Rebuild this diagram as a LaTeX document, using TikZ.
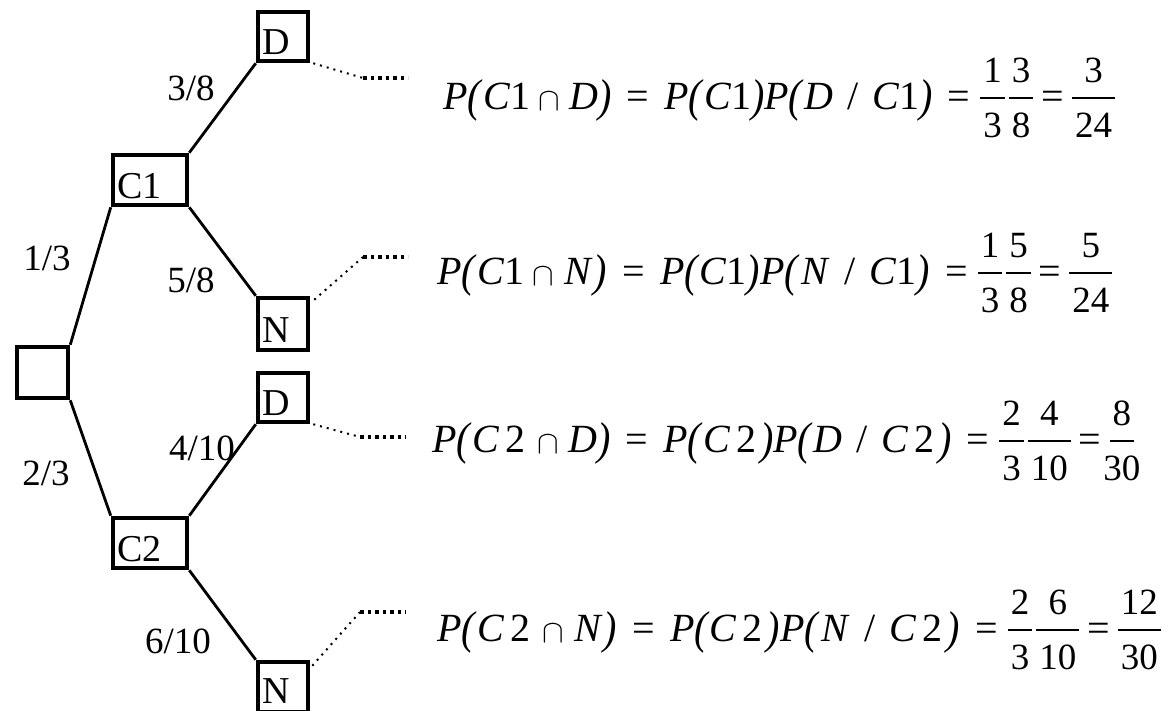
\documentclass[tikz,border=0pt]{standalone}
\usepackage{graphicx}
\usepackage{fontspec}
\setmainfont{Liberation Serif}

% stacked fraction: numerator, bar on the axis, denominator
\newlength\frw
\newcommand\fr[2]{%
  \setbox0=\hbox{\fontsize{37}{37}\selectfont#1}%
  \setbox2=\hbox{\fontsize{37}{37}\selectfont#2}%
  \frw=\wd0 \ifdim\wd2>\frw \frw=\wd2\fi
  \advance\frw by 6pt
  \kern2pt
  \rlap{\raisebox{27pt}{\hbox to\frw{\hss\box0\hss}}}%
  \rlap{\raisebox{10pt}{\rule{\frw}{1.8pt}}}%
  \raisebox{-28pt}{\hbox to\frw{\hss\box2\hss}}%
  \kern2pt}
% tall slanted parentheses
\newcommand\lp{\raisebox{-2pt}{\scalebox{1}[1.15]{\textit{(}}}}
\newcommand\rp{\raisebox{-2pt}{\scalebox{1}[1.15]{\textit{)}}}}
% equals signs: in the main expression, before the fractions, between fractions
\newcommand\eqm{\hspace{0.38em}=\hspace{0.38em}}
\newcommand\eql{\hspace{0.38em}=\hspace{0.2em}}
\newcommand\eqf{\hspace{0.15em}=\hspace{0.15em}}
\newcommand\cone{\textit{C}1}
\newcommand\ctwo{\textit{C}\kern6pt 2\kern4pt}
\newcommand\capsym{\hspace{0.22em}\raisebox{-1pt}{\scalebox{1.3}{$\cap$}}\hspace{0.22em}}
% P(Ci n X) = P(Ci) P(X / Ci) = a/b c/d = e/f
\newcommand\probline[8]{%
  \textit{P}\lp#1\capsym#2\rp\eqm
  \textit{P}\lp#1\rp\textit{P}\lp#2\hspace{0.35em}/\hspace{0.35em}#1\rp\eql
  \fr{#3}{#4}\fr{#5}{#6}\eqf\fr{#7}{#8}}

\begin{document}
\begin{tikzpicture}[x=1pt,y=-1pt,
  box/.style={draw,line width=4.5pt,inner sep=0pt,text depth=0pt,text height=36pt,
              font=\fontsize{38}{38}\selectfont},
  boxw/.style={box,minimum width=#1pt,text width=#1pt-8pt,align=left},
  branch/.style={line width=2.8pt},
  prob/.style={font=\fontsize{37}{37}\selectfont,inner sep=0pt},
  eqn/.style={font=\fontsize{40}{40}\selectfont,inner sep=0pt,anchor=base west},
  finedots/.style={line width=2pt,dash pattern=on 2pt off 5pt},
  bolddots/.style={line width=3.2pt,dash pattern=on 3.5pt off 4pt}]
\useasboundingbox (0,0) rectangle (1168,710);

% tree nodes
\node[box,minimum width=51pt,minimum height=51pt] (root) at (42.5,372.5) {};
\node[boxw=74,minimum height=50pt] (C1) at (150,180) {C1};
\node[boxw=74,minimum height=50pt] (C2) at (150,543) {C2};
\node[boxw=50,minimum height=49pt] (D1) at (283,36.5) {D};
\node[boxw=50,minimum height=52pt] (N1) at (283,324) {N};
\node[boxw=50,minimum height=49pt] (D2) at (283,397.5) {D};
\node[boxw=50,minimum height=50pt,text height=32pt] (N2) at (283,687) {N};

% branches
\draw[branch] (root.north east) -- (C1.south west);
\draw[branch] (root.south east) -- (C2.north west);
\draw[branch] (C1.north east) -- (D1.south west);
\draw[branch] (C1.south east) -- (N1.north west);
\draw[branch] (C2.north east) -- (D2.south west);
\draw[branch] (C2.south east) -- (N2.north west);

% branch probabilities
\node[prob] (p1) at (47,258) {1/3};
\node[prob] (p2) at (46,473) {2/3};
\node[prob] (p3) at (191,88) {3/8};
\node[prob] (p4) at (191,280) {5/8};
\node[prob] (p5) at (202,448) {4/10};
\node[prob] (p6) at (178,641) {6/10};

% leaders to the products
\coordinate (b1) at (363,78);  \coordinate (e1) at (408,78);
\coordinate (b2) at (363,257); \coordinate (e2) at (408,257);
\coordinate (b3) at (360,437); \coordinate (e3) at (406,437);
\coordinate (b4) at (360,612); \coordinate (e4) at (406,612);
\draw[finedots] ([xshift=3pt]D1.south east) -- (b1);
\draw[bolddots] (b1) -- (e1);
\draw[finedots] ([shift={(4pt,-4pt)}]N1.north east) -- (b2);
\draw[bolddots] (b2) -- (e2);
\draw[finedots] ([xshift=3pt]D2.south east) -- (b3);
\draw[bolddots] (b3) -- (e3);
\draw[finedots] ([shift={(2pt,-6pt)}]N2.north east) -- (b4);
\draw[bolddots] (b4) -- (e4);

% products
\node[eqn] (q1) at (443,109) {\probline{\cone}{\textit{D}}{1}{3}{3}{8}{3}{24}};
\node[eqn] (q2) at (437,284) {\probline{\cone}{\kern1pt\textit{N}\kern1pt}{1}{3}{5}{8}{5}{24}};
\node[eqn] (q3) at (432,452) {\probline{\ctwo}{\textit{D}}{2}{3}{4}{10}{8}{30}};
\node[eqn] (q4) at (437,641) {\probline{\ctwo}{\kern1pt\textit{N}\kern1pt}{2}{3}{6}{10}{12}{30}};
\end{tikzpicture}
\end{document}
